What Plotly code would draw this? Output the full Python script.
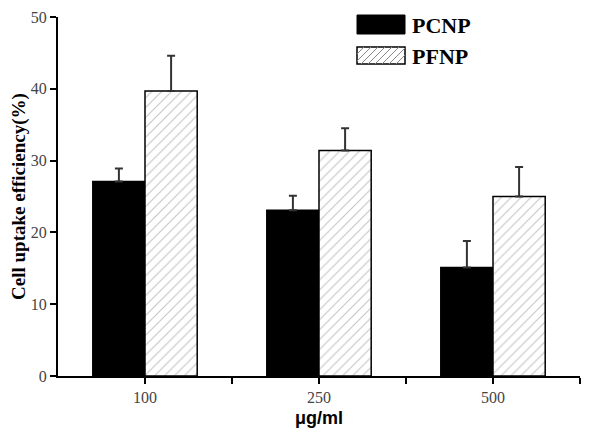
import plotly.graph_objects as go

doses = ['100', '250', '500']
pcnp = [27.1, 23.1, 15.1]
pcnp_err = [1.8, 2.0, 3.7]
pfnp = [39.7, 31.4, 25.0]
pfnp_err = [4.9, 3.1, 4.1]

# page body has an 8px margin, so the figure is a bit smaller than the window
OFF = 8
W, H = 592, 425
L, R, T, B = 50, 20, 9, 57
PW, PH = W - L - R, H - T - B

SERIF = 'Liberation Serif, Times New Roman, serif'
SANS = 'Liberation Sans, Arial, sans-serif'


def px(x):
    # window pixel -> paper x
    return (x - OFF - L) / PW


def py(y):
    # window pixel -> paper y
    return 1 - (y - OFF - T) / PH


xs = list(range(len(doses)))

fig = go.Figure()
fig.add_trace(go.Bar(
    x=xs, y=pcnp, name='PCNP',
    marker=dict(color='black', line=dict(color='black', width=1.5)),
    error_y=dict(type='data', array=pcnp_err, arrayminus=[0] * 3, symmetric=False,
                 color='#333', thickness=2, width=4),
))
fig.add_trace(go.Bar(
    x=xs, y=pfnp, name='PFNP',
    marker=dict(color='white', line=dict(color='black', width=1.5),
                pattern=dict(shape='/', fgcolor='#888', bgcolor='white', size=7, solidity=0.15)),
    error_y=dict(type='data', array=pfnp_err, arrayminus=[0] * 3, symmetric=False,
                 color='#333', thickness=2, width=4),
))

# hand-drawn legend (wide swatches like the original)
shapes = [
    dict(type='rect', xref='paper', yref='paper', x0=px(357), x1=px(405), y0=py(15), y1=py(34),
         fillcolor='black', line=dict(color='black', width=1)),
    dict(type='rect', xref='paper', yref='paper', x0=px(357), x1=px(405), y0=py(47), y1=py(64),
         fillcolor='white', line=dict(color='black', width=1.5)),
]
for k in range(0, 60, 7):
    x0, y0 = 357 + k - 17, 64
    x1, y1 = x0 + 17, 47
    # clip to swatch
    if x0 < 357:
        y0 -= 357 - x0
        x0 = 357
    if x1 > 405:
        y1 += x1 - 405
        x1 = 405
    if x1 <= x0:
        continue
    shapes.append(dict(type='line', xref='paper', yref='paper', x0=px(x0), x1=px(x1),
                       y0=py(y0), y1=py(y1), line=dict(color='#888', width=1)))

annotations = [
    dict(text='<b>PCNP</b>', x=px(410), y=py(25), xref='paper', yref='paper',
         xanchor='left', yanchor='middle', showarrow=False,
         font=dict(family=SERIF, size=22, color='black')),
    dict(text='<b>PFNP</b>', x=px(410), y=py(56), xref='paper', yref='paper',
         xanchor='left', yanchor='middle', showarrow=False,
         font=dict(family=SERIF, size=22, color='black')),
]

fig.update_layout(
    width=W, height=H,
    margin=dict(l=L, r=R, t=T, b=B, pad=0, autoexpand=False),
    paper_bgcolor='white', plot_bgcolor='white',
    barmode='group', bargap=0.4, bargroupgap=0,
    showlegend=False,
    shapes=shapes, annotations=annotations,
    xaxis=dict(
        range=[-0.5, 2.5], automargin=False,
        tickvals=[0, 0.5, 1, 1.5, 2, 2.5],
        ticktext=[doses[0], '', doses[1], '', doses[2], ''],
        ticks='outside', ticklen=6, tickwidth=2, tickcolor='black',
        showline=True, linecolor='black', linewidth=2,
        showgrid=False, zeroline=False,
        tickfont=dict(family=SERIF, size=16, color='#444'),
        title=dict(text='<b>μg/ml</b>', font=dict(family=SANS, size=18, color='black'), standoff=6),
    ),
    yaxis=dict(
        range=[0, 50], automargin=False,
        tickvals=[0, 10, 20, 30, 40, 50],
        ticks='outside', ticklen=6, tickwidth=2, tickcolor='black',
        showline=True, linecolor='black', linewidth=2,
        showgrid=False, zeroline=False,
        ticklabeloverflow='allow',
        tickfont=dict(family=SERIF, size=16, color='#444'),
        title=dict(text='<b>Cell uptake efficiency(%)</b>',
                   font=dict(family=SERIF, size=19, color='black'), standoff=0),
    ),
)

fig.write_html('out.html')
